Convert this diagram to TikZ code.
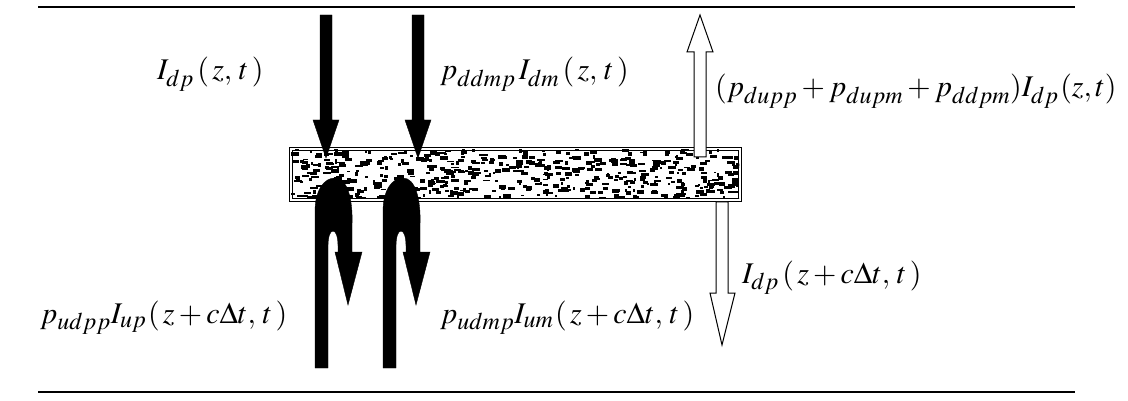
\documentclass[tikz,border=0pt]{standalone}
\usepackage{mathptmx}
\DeclareMathSizes{30}{30}{24}{19}
\begin{document}
\begin{tikzpicture}[x=1pt,y=-1pt,
  blk/.style={fill=black,draw=black,line width=0.4pt},
  hol/.style={fill=white,draw=black,line width=1pt,line join=miter},
  rule/.style={line width=2.2pt},
  lbl/.style={inner sep=0pt,font=\fontsize{30}{34}\selectfont},
  speck/.style={fill=black}]
\useasboundingbox[fill=white] (0,0) rectangle (1128,401);
% boundary lines
\coordinate (tl) at (38,7); \coordinate (tr) at (1075,7);
\coordinate (bl) at (38,392); \coordinate (br) at (1075,392);
\draw[rule] (tl) -- (tr);
\draw[rule] (bl) -- (br);
% slab
\node[draw,line width=1pt,minimum width=452pt,minimum height=54pt,inner sep=0pt,anchor=north west] (slab) at (289,147) {};
\begin{scope}
\clip (291,149) rectangle (739,199);
\pgfmathsetseed{11}
\foreach \i in {1,...,560}{
  \pgfmathsetmacro{\xx}{291+rnd*448}
  \pgfmathsetmacro{\yy}{149+rnd*50}
  \pgfmathsetmacro{\ww}{2+rnd*6}
  \pgfmathsetmacro{\hh}{1.5+rnd*2.8}
  \fill[speck] (\xx,\yy) rectangle ++(\ww,\hh);
}
\end{scope}
\draw[line width=0.6pt] (292,150) rectangle (738,198);
% black down arrows
\fill[blk] (320,15) -- (332,15) -- (332,120) -- (339,120) -- (326,158) -- (313,120) -- (320,120) -- cycle;
\fill[blk] (412,15) -- (424,15) -- (424,120) -- (431,120) -- (418,158) -- (405,120) -- (412,120) -- cycle;
% U-turn arrows
\foreach \dx in {0,68}{
\begin{scope}[xshift=\dx]
\fill[blk] (315,368) -- (315,212) .. controls (315,190) and (324,178) .. (335,178)
  .. controls (347,178) and (353,198) .. (352,225) -- (352,252) -- (362,252) -- (348,305)
  -- (335,252) -- (338,252) -- (338,246) .. controls (338,237) and (336,231) .. (333,231)
  .. controls (330,231) and (328,237) .. (328,246) -- (328,368) -- cycle;
\end{scope}}
% hollow arrows
\draw[hol] (694,157) -- (694,52) -- (687,52) -- (700,15) -- (713,52) -- (706,52) -- (706,157) -- cycle;
\draw[hol] (716,202) -- (716,293) -- (710,293) -- (722,345) -- (735,293) -- (728,293) -- (728,202) -- cycle;
% labels
\newcommand{\lpar}{(\mkern2mu}
\newcommand{\rpar}{\mkern2mu)}
\newcommand{\cma}{,\mkern2mu}
\node[lbl,anchor=base west] (l1) at (157,80) {$I_{dp}\,\lpar z\cma t\rpar$};
\node[lbl,anchor=base west] (l2) at (440,80) {$p_{ddmp}\,I_{dm}\,\lpar z\cma t\rpar$};
\node[lbl,anchor=base west] (l3) at (715,97) {$(p_{dupp}+p_{dupm}+p_{ddpm})I_{dp}\mkern1mu(z,t)$};
\node[lbl,anchor=base west] (l4) at (742,283) {$I_{dp}\,\lpar z+c\Delta t\cma t\rpar$};
\node[lbl,anchor=base west] (l5) at (40,323) {$p_{udpp}I_{up}\mkern1mu\lpar z+c\Delta t\cma t\rpar$};
\node[lbl,anchor=base west] (l6) at (440,323) {$p_{udmp}I_{um}\mkern1mu\lpar z+c\Delta t\cma t\rpar$};
\end{tikzpicture}
\end{document}
